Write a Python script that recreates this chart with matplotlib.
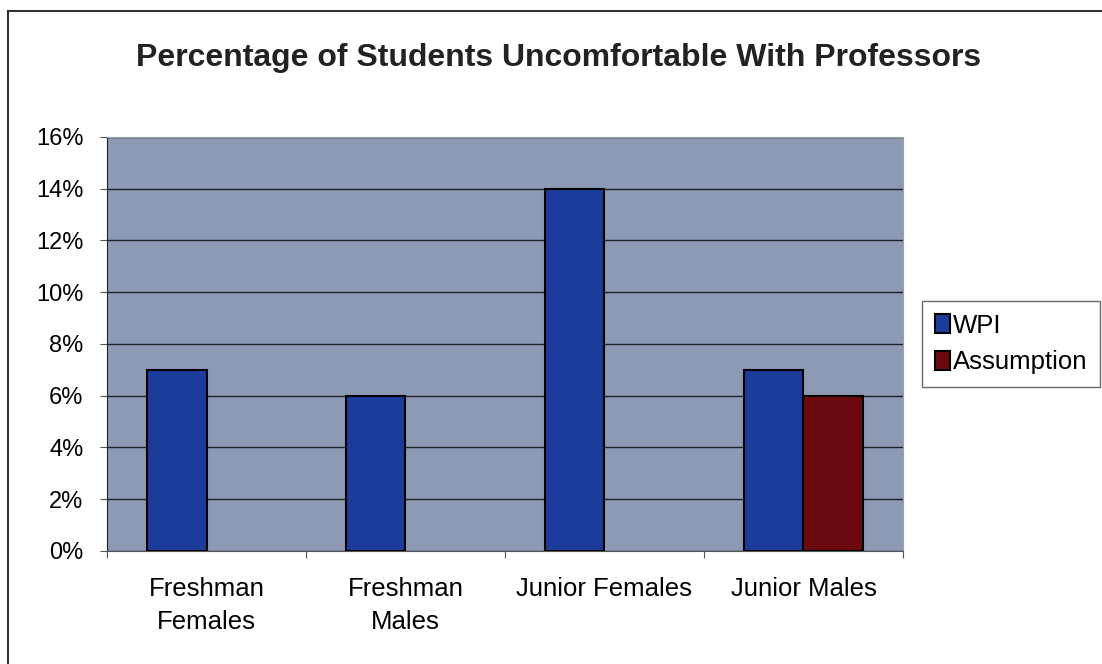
import matplotlib.pyplot as plt
import matplotlib.ticker as ticker
import numpy as np

plt.rcParams['font.family'] = ['Liberation Sans', 'DejaVu Sans']

# data
categories = ['Freshman\nFemales', 'Freshman\nMales', 'Junior Females', 'Junior Males']
wpi = [7, 6, 14, 7]
assumption = [np.nan, np.nan, np.nan, 6]
series_names = ['WPI', 'Assumption']

fig = plt.figure(figsize=(11.02, 6.64), dpi=100)
ax = fig.add_axes([0.0971, 0.1702, 0.7223, 0.6235])
ax.set_facecolor('#8e9ab4')

x = np.arange(len(categories)) + 0.5
w = 0.3
ax.bar(x - w / 2, wpi, w, color='#1c3c9c', edgecolor='black', linewidth=1.5,
       label=series_names[0], zorder=3)
ax.bar(x + w / 2, assumption, w, color='#6a0a0e', edgecolor='black', linewidth=1.5,
       label=series_names[1], zorder=3)

ax.set_xlim(0, len(categories))
ax.set_ylim(0, 16)
ax.yaxis.set_major_locator(ticker.MultipleLocator(2))
ax.yaxis.set_major_formatter(ticker.FuncFormatter(lambda v, p: f'{v:.0f}%'))
ax.grid(axis='y', color='#202020', linewidth=1, zorder=1)

ax.set_xticks(np.arange(len(categories) + 1))
ax.set_xticklabels([])
ax.set_xticks(x, minor=True)
ax.set_xticklabels(categories, minor=True, fontsize=18.5, linespacing=1.45)
ax.tick_params(axis='x', which='minor', length=0, pad=19)
ax.tick_params(axis='x', which='major', length=5, color='#555555')
ax.tick_params(axis='y', labelsize=17, length=5, color='#555555', pad=12)
for lab in ax.get_xticklabels(minor=True):
    lab.set_verticalalignment('top')

for s in ['top', 'right']:
    ax.spines[s].set_color('#9aa0aa')
ax.spines['left'].set_color('#222222')
ax.spines['bottom'].set_color('#555555')

leg = ax.legend(loc='center left', bbox_to_anchor=(1.008, 0.5), fontsize=18.5,
                frameon=True, fancybox=False, edgecolor='#444444',
                handlelength=0.6, handleheight=0.8, handletextpad=0.1,
                borderpad=0.5, labelspacing=0.5)
leg.get_frame().set_linewidth(1)

fig.suptitle('Percentage of Students Uncomfortable With Professors',
             x=0.507, y=0.935, fontsize=23, fontweight='bold', color='#222222')

# outer chart border
fig.add_artist(plt.Line2D([0.0075, 0.0075], [0, 0.984], color='#333333', lw=1.5))
fig.add_artist(plt.Line2D([0.0075, 1.0], [0.984, 0.984], color='#333333', lw=1.5))

fig.savefig('out.png', dpi=100)
